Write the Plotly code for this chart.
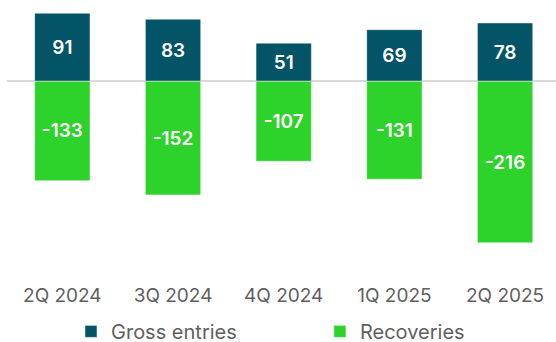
import plotly.graph_objects as go

quarters = ["2Q 2024", "3Q 2024", "4Q 2024", "1Q 2025", "2Q 2025"]
gross_entries = [91, 83, 51, 69, 78]
recoveries = [-133, -152, -107, -131, -216]

DARK = "#025466"
GREEN = "#2DD32A"
GREY_TEXT = "#5f5f5f"
FONT = "Inter"

fig = go.Figure()
fig.add_trace(go.Bar(
    x=quarters, y=gross_entries, name="Gross entries", legend="legend",
    marker=dict(color=DARK, line=dict(color="rgba(255,255,255,0.6)", width=0.8)),
    width=0.5,
    text=[str(v) for v in gross_entries], textposition="inside",
    insidetextanchor="middle",
    textfont=dict(family=FONT, size=19, color="white", weight=600),
))
fig.add_trace(go.Bar(
    x=quarters, y=recoveries, name="Recoveries", legend="legend2",
    marker=dict(color=GREEN, line=dict(color="rgba(255,255,255,0.6)", width=0.8)),
    width=0.5,
    text=[str(v) for v in recoveries], textposition="inside",
    insidetextanchor="middle",
    textfont=dict(family=FONT, size=19, color="white", weight=600),
))

legend_common = dict(
    orientation="h", yanchor="top", y=-0.106, xanchor="left",
    font=dict(family=FONT, size=20, color=GREY_TEXT),
    itemclick=False, itemdoubleclick=False,
    bgcolor="rgba(0,0,0,0)",
)

fig.update_layout(
    width=556, height=342,
    barmode="relative",
    margin=dict(l=7, r=0, t=0, b=60, autoexpand=False),
    paper_bgcolor="white", plot_bgcolor="white",
    font=dict(family=FONT, size=18, color=GREY_TEXT),
    showlegend=True,
    legend=dict(x=0.1166, **legend_common),
    legend2=dict(x=0.570, **legend_common),
    xaxis=dict(
        range=[-0.5, 4.46], showgrid=False, showline=False, ticks="",
        tickfont=dict(family=FONT, size=19, color=GREY_TEXT),
        fixedrange=True,
    ),
    yaxis=dict(
        range=[-268.5, 108.7], showgrid=False, showticklabels=False,
        zeroline=True, zerolinecolor="#d9d9d9", zerolinewidth=2,
        fixedrange=True,
    ),
)

fig.write_html("out.html", config={"displayModeBar": False})
